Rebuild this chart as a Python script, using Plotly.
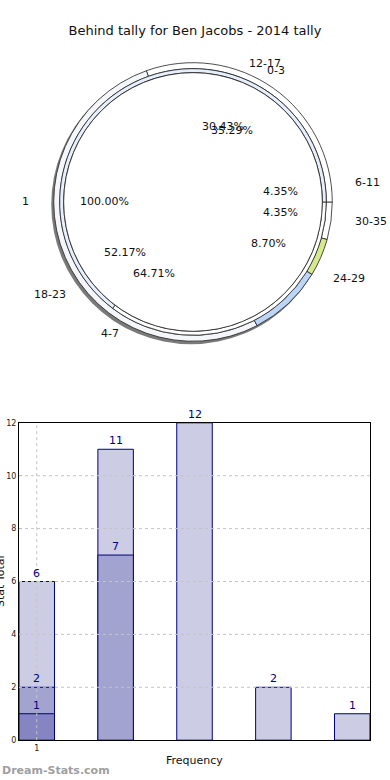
import math
import plotly.graph_objects as go

# ---------------- data ----------------
chart_title = "Behind tally for Ben Jacobs - 2014 tally"

inner_labels = ["1"]
inner_values = [17]
middle_labels = ["0-3", "4-7"]
middle_values = [6, 11]
outer_labels = ["6-11", "12-17", "18-23", "24-29", "30-35"]
outer_values = [1, 7, 12, 2, 1]

bar_x = [1, 2, 3, 4, 5]
bar_light = [6, 11, 12, 2, 1]
bar_medium = [2, 7, None, None, None]
bar_dark = [1, None, None, None, None]
x_tick_vals = [1]
x_tick_text = ["1"]
y_tick_vals = [0, 2, 4, 6, 8, 10, 12]

# ---------------- layout helpers ----------------
W, H = 390, 780
H_EFF = 775  # effective rendered height used to map pixel positions to paper coords


def px(x):
    return x / W


def py(y):
    return 1 - y / H_EFF


CX, CY = 193, 199          # pie centre (pixels)
R0, R1, R2 = 140, 134, 130  # outer ring, middle ring, inner pie radii
RX, RY = 147, 134           # ellipse used for text placement


def dom(r, dx=0, dy=0):
    return dict(x=[px(CX + dx - r), px(CX + dx + r)],
                y=[py(CY + dy + r), py(CY + dy - r)])


edge = dict(color="#222222", width=0.8)
common = dict(direction="counterclockwise", rotation=90, sort=False,
              textinfo="none", hoverinfo="skip", showlegend=False)

fig = go.Figure()

# soft shadow
fig.add_trace(go.Pie(values=[1], domain=dom(R0 + 0.5, dx=-2, dy=2.5),
                     marker=dict(colors=["rgba(50,50,50,0.65)"], line=dict(width=0)),
                     **common))
# outer ring
fig.add_trace(go.Pie(labels=outer_labels, values=outer_values, domain=dom(R0),
                     hole=R1 / R0,
                     marker=dict(colors=["#ffffff", "#ffffff", "#f5f6fa", "#bdd6f7", "#d5ea8c"],
                                 line=edge), **common))
# middle ring
fig.add_trace(go.Pie(labels=middle_labels, values=middle_values, domain=dom(R1),
                     hole=R2 / R1,
                     marker=dict(colors=["#ffffff", "#e8effc"], line=edge), **common))
# inner pie
fig.add_trace(go.Pie(labels=inner_labels, values=inner_values, domain=dom(R2),
                     marker=dict(colors=["#ffffff"], line=edge), **common))

annotations = []


def ring_text(labels, values):
    total = sum(values)
    start = 0.0
    for lab, v in zip(labels, values):
        frac = v / total
        mid = math.radians((start + frac / 2) * 360)
        start += frac
        c, s = math.cos(mid), math.sin(mid)
        annotations.append(dict(
            text=lab, x=px(CX + 1.1 * RX * c), y=py(CY - 1.1 * RY * s),
            xref="paper", yref="paper", showarrow=False,
            xanchor="left" if c > 0 else "right", yanchor="middle",
            font=dict(size=11, color="#111111")))
        annotations.append(dict(
            text=f"{100 * frac:.2f}%", x=px(CX + 0.6 * RX * c), y=py(CY - 0.6 * RY * s),
            xref="paper", yref="paper", showarrow=False,
            xanchor="center", yanchor="middle",
            font=dict(size=11, color="#111111")))


ring_text(inner_labels, inner_values)
ring_text(outer_labels, outer_values)
ring_text(middle_labels, middle_values)

# ---------------- bar chart ----------------
BW = 0.45
bar_line = dict(color="#000080", width=1)
for vals, col in [(bar_light, "#ccccE4"), (bar_medium, "#a3a3cf"), (bar_dark, "#8585c2")]:
    fig.add_trace(go.Bar(x=bar_x, y=vals, width=BW,
                         marker=dict(color=col, line=bar_line),
                         hoverinfo="skip", showlegend=False,
                         xaxis="x", yaxis="y"))

# value labels above each bar (annotations sit above the grid shapes)
for vals in [bar_light, bar_medium, bar_dark]:
    for x, v in zip(bar_x, vals):
        if v is None:
            continue
        annotations.append(dict(text=str(v), x=x, y=v, xref="x", yref="y",
                                showarrow=False, xanchor="center", yanchor="bottom",
                                font=dict(size=11, color="#000080")))

shapes = []
for yv in y_tick_vals[1:-1]:
    shapes.append(dict(type="line", xref="paper", yref="y",
                       x0=px(19), x1=px(370), y0=yv, y1=yv, layer="above",
                       line=dict(color="#c4c4c4", width=1, dash="dot")))
for xv in x_tick_vals:
    shapes.append(dict(type="line", xref="x", yref="paper",
                       x0=xv, x1=xv, y0=py(740), y1=py(421), layer="above",
                       line=dict(color="#c4c4c4", width=1, dash="dot")))

annotations.append(dict(text="Frequency", x=px(194), y=py(760), xref="paper", yref="paper",
                        showarrow=False, xanchor="center", yanchor="middle",
                        font=dict(size=11, color="#111111")))
annotations.append(dict(text="Stat Total", x=px(0), y=py(580), xref="paper", yref="paper",
                        showarrow=False, xanchor="center", yanchor="middle", textangle=-90,
                        font=dict(size=11, color="#111111")))
annotations.append(dict(text="<b>Dream-Stats.com</b>", x=px(0), y=py(770), xref="paper",
                        yref="paper", showarrow=False, xanchor="left", yanchor="middle",
                        font=dict(size=11, color="#a0a0a0")))

fig.update_layout(
    width=W, height=H,
    margin=dict(l=0, r=0, t=0, b=0),
    paper_bgcolor="white", plot_bgcolor="white",
    font=dict(family="DejaVu Sans", color="#111111"),
    title=dict(text=chart_title, x=0.5, xanchor="center", y=py(30), yanchor="middle",
               font=dict(size=13, color="#111111")),
    barmode="overlay",
    xaxis=dict(domain=[px(19), px(370)], range=[1 - BW / 2, 5 + BW / 2],
               tickvals=x_tick_vals, ticktext=x_tick_text, showgrid=False,
               showline=True, mirror=True, linecolor="#000000", linewidth=1,
               ticks="inside", ticklen=3, tickcolor="#888888",
               tickfont=dict(size=8, color="#222222"), zeroline=False, fixedrange=True),
    yaxis=dict(domain=[py(740), py(421)], range=[0, 12], tickvals=y_tick_vals,
               showgrid=False, showline=True, mirror=True, linecolor="#000000", linewidth=1,
               ticks="inside", ticklen=3, tickcolor="#888888",
               tickfont=dict(size=8, color="#222222"), zeroline=False, fixedrange=True),
    annotations=annotations,
    shapes=shapes,
)

fig.write_html(
    "out.html",
    config={"displayModeBar": False, "staticPlot": True},
    post_script=("document.documentElement.style.margin='0';"
                 "document.documentElement.style.overflow='hidden';"
                 "document.body.style.margin='0';"
                 "document.body.style.overflow='hidden';"
                 "document.body.style.height='780px';"),
)
